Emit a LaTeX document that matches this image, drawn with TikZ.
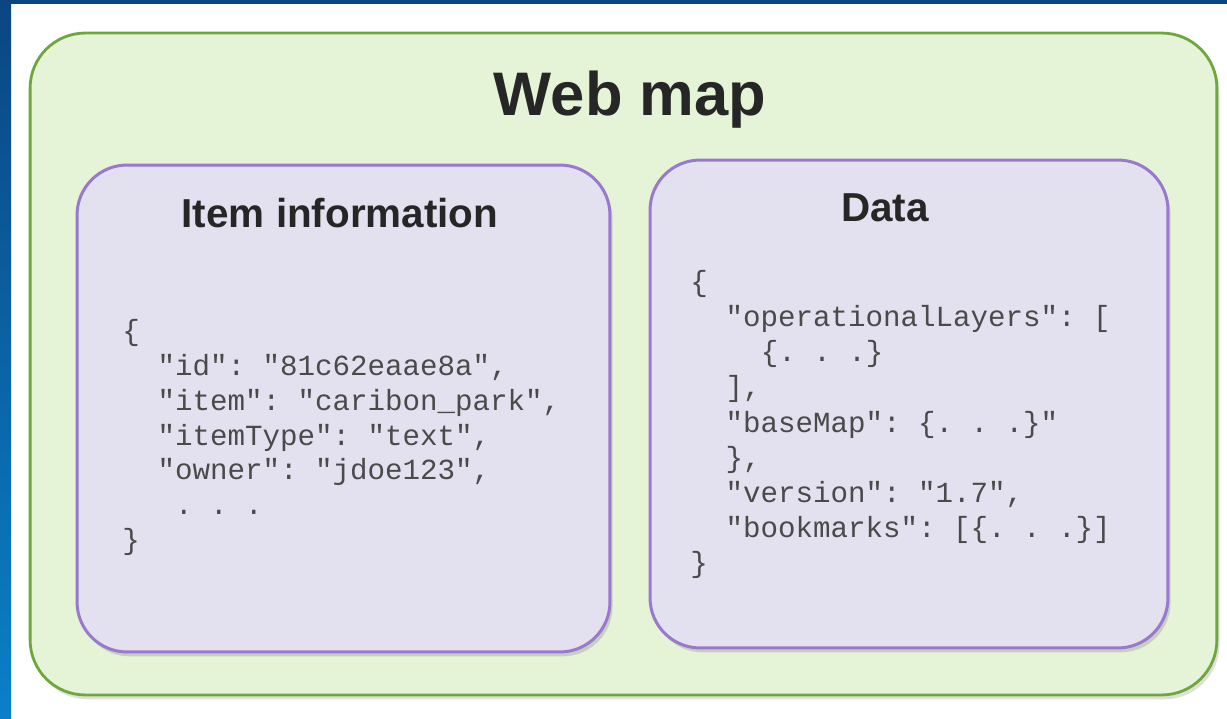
\documentclass[tikz,border=0pt]{standalone}
\usepackage{fontspec}
\setsansfont{Liberation Sans}
\setmonofont{Liberation Mono}
\usetikzlibrary{shadows}
\definecolor{mapgreen}{HTML}{E5F4D6}
\definecolor{mapborder}{HTML}{6FA83A}
\definecolor{boxfill}{HTML}{E3E0EF}
\definecolor{boxborder}{HTML}{9A78D0}
\definecolor{frameblue}{HTML}{0B4682}
\definecolor{framelight}{HTML}{0A80C8}
\definecolor{codegray}{HTML}{4A4A4A}
\tikzset{
    mapbox/.style={draw=mapborder,fill=mapgreen,line width=1.6pt,rounded corners=1.1cm,
        drop shadow={shadow xshift=1.5pt,shadow yshift=-2.5pt,opacity=.25}},
    partbox/.style={draw=boxborder,fill=boxfill,line width=1.7pt,rounded corners=1cm,
        drop shadow={shadow xshift=1.5pt,shadow yshift=-2.5pt,opacity=.3}},
    title/.style={font=\sffamily\bfseries\fontsize{23}{28}\selectfont,text=black!85},
    code/.style={font=\ttfamily\frenchspacing\fontsize{16.6}{20}\selectfont,text=codegray,inner sep=0pt,anchor=base west}
}
\begin{document}
\begin{tikzpicture}[x=0.02cm,y=-0.02cm]
            \useasboundingbox (0,0) rectangle (1227,719);
            \shade[top color=frameblue,bottom color=framelight] (0,0) rectangle (11,719);
            \fill[frameblue] (0,0) rectangle (1227,4);
            \node[mapbox,minimum width=23.74cm,minimum height=13.24cm] at (623.5,364)(map){};
            \node[partbox,minimum width=10.66cm,minimum height=9.74cm] at (343.5,408.5)(info){};
            \node[partbox,minimum width=10.36cm,minimum height=9.76cm] at (909,404)(data){};
            \node[title,font=\sffamily\bfseries\fontsize{35}{40}\selectfont] at (630,100)(mapTitle){Web map};
            \node[title] at (340,213)(infoTitle){Item information};
            \node[title] at (885,208)(dataTitle){Data};
            %item json
            \foreach \c/\txt [count=\i from 0] in {0/\{, {2/"id": "81c62eaae8a",}, {2/"item": "caribon\_park",},
                {2/"itemType": "text",}, {2/"owner": "jdoe123",}, 3/. . ., 0/\}}{
                \node[code] at ({122+17.6*\c},{341+34.7*\i})(infoLine\i){\txt};
            }
            %data json
            \foreach \c/\txt [count=\i from 0] in {0/\{, {2/"operationalLayers": [}, 4/\{. . .\}, {2/],},
                {2/"baseMap": \{. . .\}"}, {2/\},}, {2/"version": "1.7",}, {2/"bookmarks": [\{. . .\}]}, 0/\}}{
                \node[code] at ({690+17.6*\c},{292+35*\i})(dataLine\i){\txt};
            }
        \end{tikzpicture}
\end{document}
